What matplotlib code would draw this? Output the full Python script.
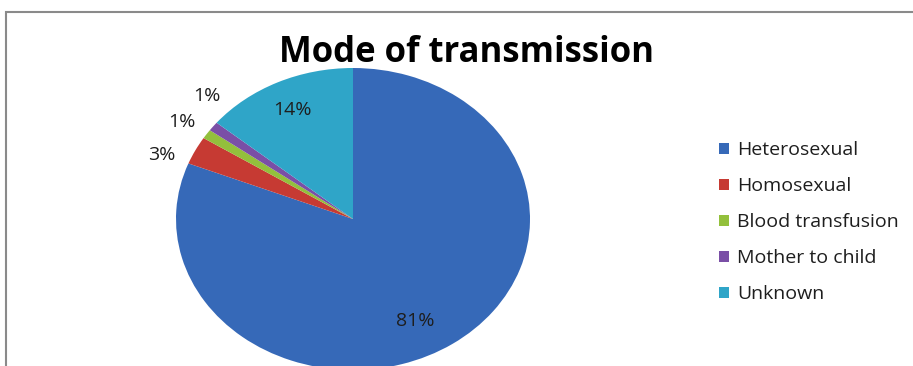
import numpy as np
import matplotlib
matplotlib.use('Agg')
import matplotlib.pyplot as plt
from matplotlib.patches import Rectangle, Patch

# data
categories = ['Heterosexual', 'Homosexual', 'Blood transfusion', 'Mother to child', 'Unknown']
shares = [81, 3, 1, 1, 14]
colors = ['#3669B8', '#C63A33', '#93C03C', '#7A4FA6', '#2FA5C8']

# label layout: small slices get their label outside, nudged like Excel does
outside_angle = {1: 158.7, 2: 146.3, 3: 135.5}

plt.rcParams['font.family'] = ['Open Sans', 'DejaVu Sans']

fig = plt.figure(figsize=(9.13, 3.66), dpi=100)

# elliptic pie: axes box sized so the unit circle maps to 177 x 151 px
W, H = 913.0, 366.0
cx, cy, rx, ry = 353.0, 219.0, 177.0, 151.0
ax = fig.add_axes([(cx - rx) / W, (H - cy - ry) / H, 2 * rx / W, 2 * ry / H])
wedges, _ = ax.pie(shares, colors=colors, startangle=90, counterclock=False,
                   wedgeprops=dict(linewidth=0))
ax.set_aspect('auto')
ax.set_xlim(-1, 1)
ax.set_ylim(-1, 1)
ax.axis('off')

for i, w in enumerate(wedges):
    txt = '%d%%' % shares[i]
    if i in outside_angle:
        a = np.deg2rad(outside_angle[i])
        r = 1.16
    else:
        a = np.deg2rad((w.theta1 + w.theta2) / 2)
        r = 0.8 if shares[i] < 50 else 0.76
        if shares[i] > 50:
            a = np.deg2rad((w.theta1 + w.theta2) / 2 - 6.5)
    ax.text(r * np.cos(a), r * np.sin(a), txt, ha='center', va='center',
            fontsize=14, color='#1e1e1e', clip_on=False)

fig.text(466 / W, 1 - 62 / H, 'Mode of transmission', ha='center', va='baseline',
         fontsize=25, fontweight='bold', color='black')

handles = [Patch(facecolor=c, edgecolor='none') for c in colors]
fig.legend(handles, categories, loc='upper left', bbox_to_anchor=(719 / W, 1 - 141 / H),
           frameon=False, fontsize=14, labelspacing=0.93, handlelength=0.5,
           handleheight=0.5, handletextpad=0.45, borderpad=0, borderaxespad=0,
           labelcolor='#1e1e1e')

# chart frame (only top and left edges fall inside the picture)
fig.add_artist(Rectangle((6 / W, -0.2), 1.2, 0.2 + (1 - 11.5 / H),
                         transform=fig.transFigure, fill=False,
                         edgecolor='#8a8a8a', linewidth=1.5))

fig.savefig('out.png', dpi=100)
